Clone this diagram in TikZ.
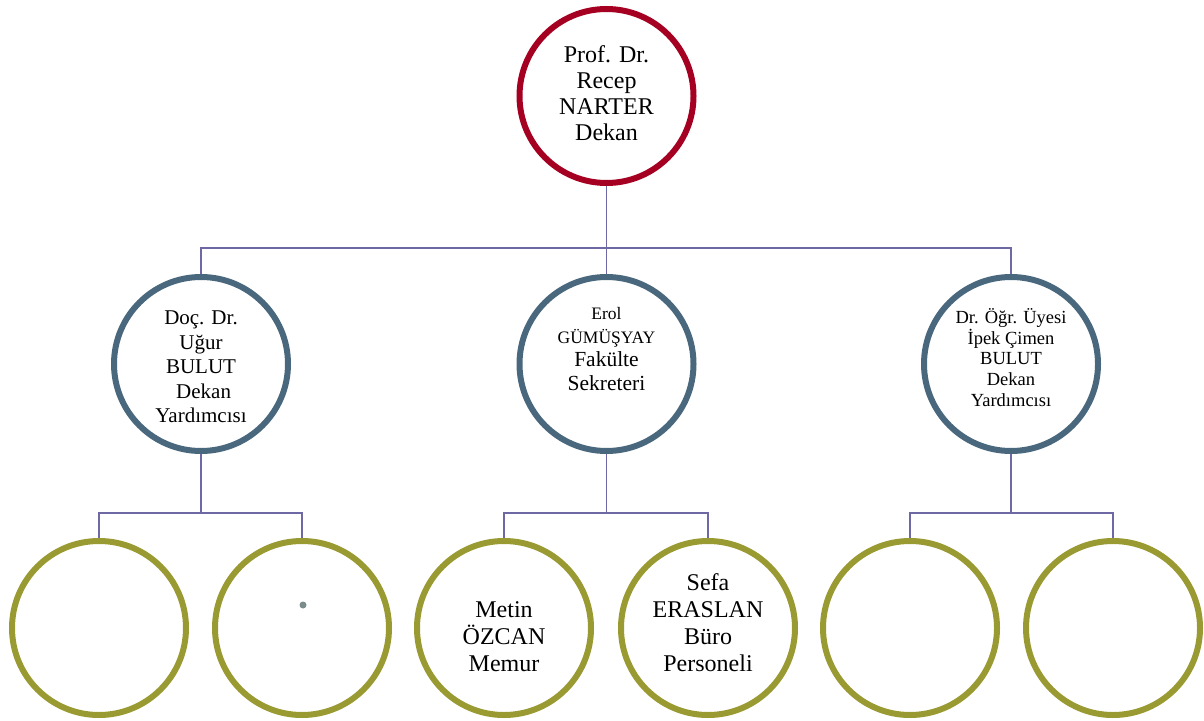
\documentclass[tikz,border=0pt]{standalone}
\usepackage{fontspec}
\setmainfont{Liberation Serif}
\definecolor{topred}{HTML}{A50021}
\definecolor{midblue}{HTML}{4A687D}
\definecolor{olivec}{HTML}{9A9A33}
\definecolor{conncol}{HTML}{6E68A4}
\definecolor{dotgray}{HTML}{7A8C8C}
\begin{document}
\begin{tikzpicture}[x=1pt,y=-1pt,
  ring/.style={circle,draw,line width=6pt,minimum size=174pt,inner sep=0pt,fill=white},
  redring/.style={ring,draw=topred},
  bluering/.style={ring,draw=midblue},
  olivering/.style={ring,draw=olivec},
  conn/.style={draw=conncol,line width=1.8pt},
  lbl/.style={align=center,inner sep=0pt,text=black}]
\useasboundingbox (0,0) rectangle (1204,720);

% circles
\node[redring] (top) at (606.5,96) {};
\node[bluering] (m1) at (201,364) {};
\node[bluering] (m2) at (606.5,364) {};
\node[bluering] (m3) at (1011,364) {};
\node[olivering] (b1) at (99,628) {};
\node[olivering] (b2) at (302,628) {};
\node[olivering] (b3) at (504,628) {};
\node[olivering] (b4) at (708,628) {};
\node[olivering] (b5) at (910,628) {};
\node[olivering] (b6) at (1113,628) {};

% connectors
\coordinate (j0) at (606.5,248);
\coordinate (j1) at (201,513);
\coordinate (j2) at (606.5,513);
\coordinate (j3) at (1011,513);
\draw[conn] (top.south) -- (j0) -| (m1.north);
\draw[conn] (j0) -- (m2.north);
\draw[conn] (j0) -| (m3.north);
\draw[conn] (m1.south) -- (j1) -| (b1.north);
\draw[conn] (j1) -| (b2.north);
\draw[conn] (m2.south) -- (j2) -| (b3.north);
\draw[conn] (j2) -| (b4.north);
\draw[conn] (m3.south) -- (j3) -| (b5.north);
\draw[conn] (j3) -| (b6.north);

% texts
\node[lbl,font=\fontsize{24}{26}\selectfont] (ttop) at (606.5,93)
  {Prof. Dr.\\Recep\\NARTER\\Dekan};
\node[lbl,font=\fontsize{21}{24.5}\selectfont] (tm1) at (201,367)
  {Doç. Dr.\\Uğur\\BULUT\\\ Dekan\\Yardımcısı};
\node[lbl,font=\fontsize{21.5}{23.5}\selectfont] (tm2) at (606.5,349)
  {{\fontsize{17.5}{23.5}\selectfont Erol}\\{\fontsize{17.5}{23.5}\selectfont GÜMÜŞYAY}\\Fakülte\\Sekreteri};
\node[lbl,font=\fontsize{18.5}{20.8}\selectfont] (tm3) at (1011,357.5)
  {Dr. Öğr. Üyesi\\İpek Çimen\\BULUT\\Dekan\\Yardımcısı};
\node[lbl,font=\fontsize{24}{27}\selectfont] (tb3) at (504,637)
  {Metin\\ÖZCAN\\Memur};
\node[lbl,font=\fontsize{24}{27}\selectfont] (tb4) at (708,623)
  {Sefa\\ERASLAN\\Büro\\Personeli};

% small dot
\node[circle,fill=dotgray,inner sep=0pt,minimum size=7pt] (dot) at (303,605) {};
\end{tikzpicture}
\end{document}
